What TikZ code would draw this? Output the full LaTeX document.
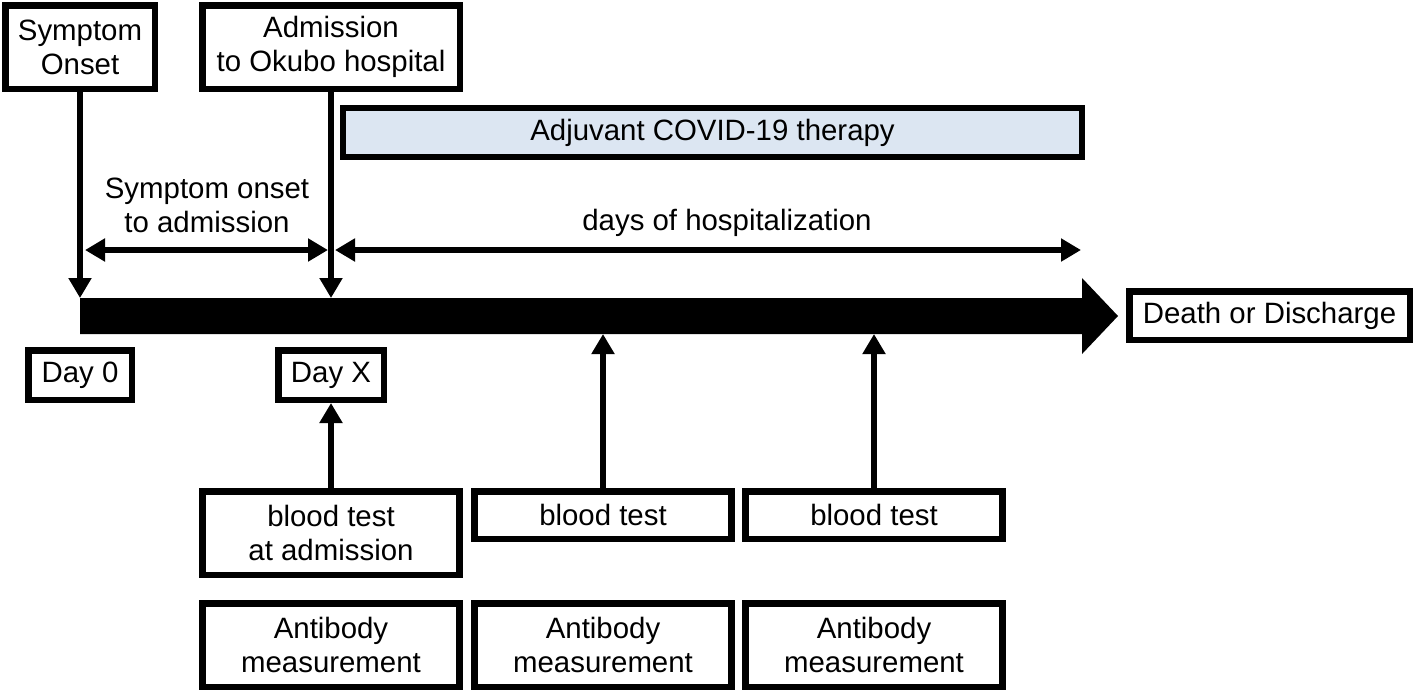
\documentclass[tikz,border=0pt]{standalone}
\usepackage{fontspec}
\setmainfont{Liberation Sans}
\usetikzlibrary{arrows.meta}
\definecolor{therapyblue}{RGB}{220,230,242}

\begin{document}
\begin{tikzpicture}[x=0.5pt,y=-0.5pt,
  font=\fontsize{14.7}{17}\selectfont,
  box/.style={draw,line width=3.25pt,align=center,inner sep=0pt},
  colbox/.style={box,minimum width=128.5pt},
  arr/.style={line width=3.25pt,-{Triangle[length=10pt,width=11pt]}},
  both/.style={line width=3.25pt,{Triangle[length=10pt,width=11pt]}-{Triangle[length=10pt,width=11pt]}}]
\useasboundingbox (0,0) rectangle (1416,693);
% events on top
\node[box,minimum width=74.75pt,minimum height=41.75pt] (onset) at (80,47) {Symptom\\Onset};
\node[box,minimum width=128.75pt,minimum height=41.75pt] (admit) at (331,47) {Admission\\to Okubo hospital};
\node[box,fill=therapyblue,line width=3pt,minimum width=369.25pt,minimum height=24.25pt] (therapy) at (712.5,132.5) {Adjuvant COVID-19 therapy};
% time line
\fill (80,298) -- (1082,298) -- (1082,278) -- (1118,316) -- (1082,354) -- (1082,334) -- (80,334) -- cycle;
\coordinate (on) at (80,298);
\coordinate (ad) at (331,298);
\coordinate (b2) at (603,334);
\coordinate (b3) at (874,334);
\node[box,minimum width=140.25pt,minimum height=24.25pt] (end) at (1269.5,315.5) {Death or Discharge};
\draw[arr] (onset) -- (on);
\draw[arr] (admit) -- (ad);
% spans
\coordinate (s0) at (85,250);
\coordinate (s1) at (328,250);
\coordinate (h0) at (335,250);
\coordinate (h1) at (1081,250);
\draw[both] (s0) -- (s1);
\draw[both] (h0) -- (h1);
\node[align=center] (span) at (207,205) {Symptom onset\\to admission};
\node (hosp) at (727,223) {days of hospitalization};
% days
\node[box,minimum width=51.75pt,minimum height=24.75pt] (day0) at (80,375) {Day 0};
\node[box,minimum width=52.75pt,minimum height=24.75pt] (dayx) at (331,375) {Day X};
% tests
\node[colbox,minimum height=41.75pt] (bt1) at (331,533) {blood test\\at admission};
\node[colbox,minimum height=23.75pt] (bt2) at (603,515) {blood test};
\node[colbox,minimum height=23.75pt] (bt3) at (874,515) {blood test};
\draw[arr] (bt1) -- (dayx);
\draw[arr] (bt2) -- (b2);
\draw[arr] (bt3) -- (b3);
\foreach \n/\x in {1/331,2/603,3/874}
  \node[colbox,minimum height=41.75pt] (ab\n) at (\x,645) {Antibody\\measurement};
\end{tikzpicture}
\end{document}
